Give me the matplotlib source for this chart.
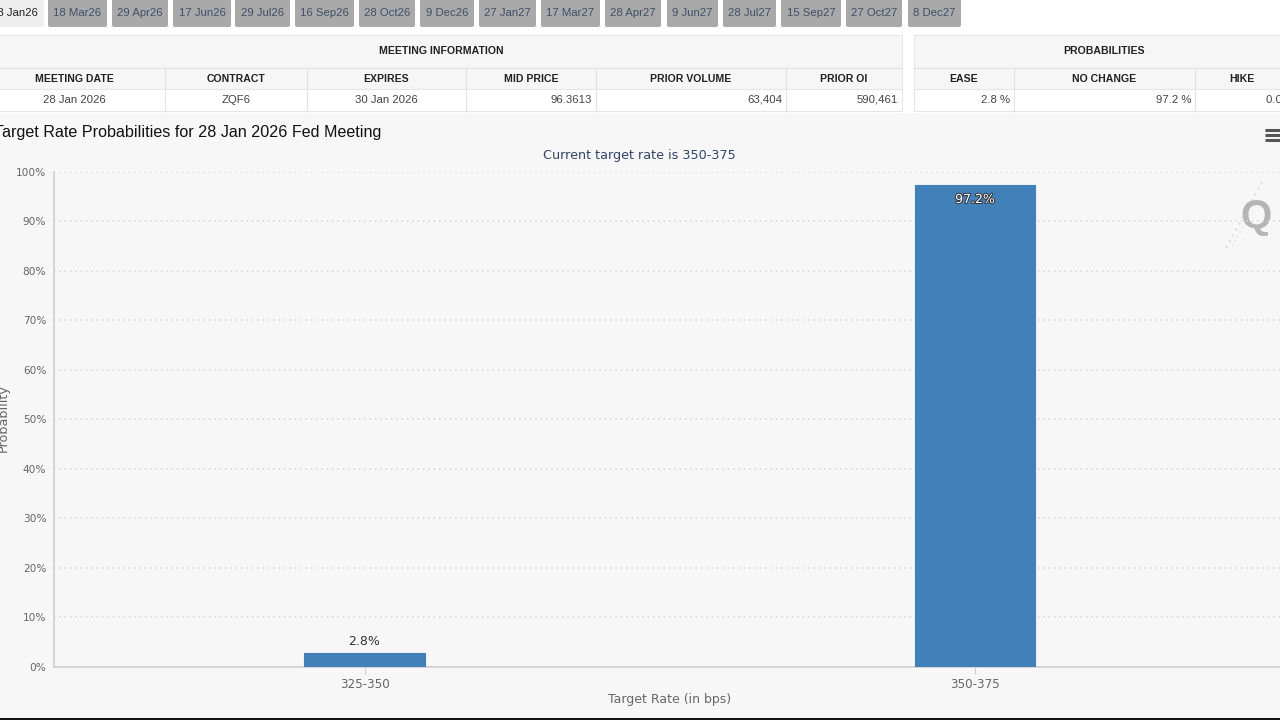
import matplotlib
matplotlib.use("Agg")
import matplotlib.pyplot as plt
import matplotlib.patheffects as pe
from matplotlib.patches import Rectangle, FancyBboxPatch

# datos de la grafica
rates = ["325-350", "350-375"]
probs = [2.8, 97.2]
bar_labels = ["2.8%", "97.2%"]
y_ticks = [0, 10, 20, 30, 40, 50, 60, 70, 80, 90, 100]

# pestañas de reuniones
tab_labels = ["28 Jan26", "18 Mar26", "29 Apr26", "17 Jun26", "29 Jul26", "16 Sep26", "28 Oct26", "9 Dec26",
              "27 Jan27", "17 Mar27", "28 Apr27", "9 Jun27", "28 Jul27", "15 Sep27", "27 Oct27", "8 Dec27"]
tab_edges = [(-16, 44), (48, 107), (112, 168), (173, 231), (235, 290), (295, 354), (359, 415), (420, 474),
             (479, 536), (541, 600), (605, 661), (667, 718), (723, 776), (781, 841), (846, 902), (908, 961)]

# tablas
info_headers = ["MEETING DATE", "CONTRACT", "EXPIRES", "MID PRICE", "PRIOR VOLUME", "PRIOR OI"]
info_values = ["28 Jan 2026", "ZQF6", "30 Jan 2026", "96.3613", "63,404", "590,461"]
info_cols = [-17, 165, 307, 466, 596, 786, 902]
info_align = ["center", "center", "center", "right", "right", "right"]
prob_headers = ["EASE", "NO CHANGE", "HIKE"]
prob_values = ["2.8 %", "97.2 %", "0.0 %"]
prob_cols = [914, 1014, 1195, 1290]

W, H = 1280, 720
BAR = "#4180b8"
GRID = "#d6d6d6"
LINE = "#cfcfcf"
TXT = "#666666"
SANS = "Liberation Sans"

fig = plt.figure(figsize=(12.8, 7.2), dpi=100, facecolor="#f7f7f7")

# capa de fondo en pixeles para pestañas y tablas
bg = fig.add_axes([0, 0, 1, 1], zorder=0)
bg.set_xlim(0, W)
bg.set_ylim(H, 0)
bg.axis("off")

bg.add_patch(Rectangle((0, 0), W, 113, fc="white", ec="none"))
bg.add_patch(Rectangle((0, 718), W, 2, fc="#111111", ec="none"))

for i, (label, (x0, x1)) in enumerate(zip(tab_labels, tab_edges)):
    fc = "#eeeeee" if i == 0 else "#a9a9a9"
    col = "#222222" if i == 0 else "#3f4f68"
    bg.add_patch(FancyBboxPatch((x0, -6), x1 - x0, 33, boxstyle="round,pad=0,rounding_size=2",
                                fc=fc, ec="none"))
    bg.text((x0 + x1) / 2, 12.5, label, ha="center", va="center", fontsize=8.2, color=col, family=SANS)


def tabla(cols, title, title_x, headers, values, aligns):
    x0, x1 = cols[0], cols[-1]
    bg.add_patch(Rectangle((x0, 35), x1 - x0, 54, fc="#f6f6f6", ec="#e6e6e6", lw=0.8))
    bg.add_patch(Rectangle((x0, 89), x1 - x0, 22, fc="white", ec="#e6e6e6", lw=0.8))
    bg.plot([x0, x1], [68, 68], color="#e2e2e2", lw=0.8)
    bg.text(title_x, 51.5, title, ha="center", va="center", fontsize=7.6, fontweight="bold",
            color="#222222", family=SANS)
    for j, (head, val) in enumerate(zip(headers, values)):
        a, b = cols[j], cols[j + 1]
        if j > 0:
            bg.plot([a, a], [68, 111], color="#e2e2e2", lw=0.8)
        bg.text((a + b) / 2 - (1 if b > W else 0), 78.5, head, ha="center", va="center", fontsize=7.6,
                fontweight="bold", color="#222222", family=SANS)
        if aligns[j] == "right":
            # la ultima columna queda cortada por el borde de la captura
            right = b + 5 if b > W else b - 4
            bg.text(right, 100, val, ha="right", va="center", fontsize=8.2, color="#444444", family=SANS)
        else:
            bg.text((a + b) / 2, 100, val, ha="center", va="center", fontsize=8.2, color="#444444", family=SANS)


tabla(info_cols, "MEETING INFORMATION", 441.5, info_headers, info_values, info_align)
tabla(prob_cols, "PROBABILITIES", 1104, prob_headers, prob_values, ["right"] * 3)

bg.text(-5.5, 132, "Target Rate Probabilities for 28 Jan 2026 Fed Meeting", ha="left", va="center",
        fontsize=11.6, color="#111111", family=SANS)
bg.text(639, 156, "Current target rate is 350-375", ha="center", va="center", fontsize=9.2,
        color="#33446b")

# icono de menu
for y in (129.5, 134.5, 139.5):
    bg.plot([1265, 1281], [y, y], color="#555555", lw=2.2, solid_capstyle="butt")

# grafica: 54-1280 px en x, 171.5-667 px en y
ax = fig.add_axes([54 / W, (H - 667) / H, (W - 54) / W, (667 - 171.5) / H], zorder=1)
ax.patch.set_alpha(0)
x_pos = list(range(len(rates)))
spacing = 610.5
ax.set_xlim((54 - 364.5) / spacing, (1280 - 364.5) / spacing)
ax.set_ylim(0, 100)

ax.bar(x_pos, probs, width=0.197, color=BAR, edgecolor=BAR, linewidth=0.8, joinstyle="round", zorder=3)

ax.set_yticks(y_ticks)
ax.set_yticklabels([f"{v}%" for v in y_ticks], fontsize=7.6, color=TXT)
ax.set_xticks(x_pos)
ax.set_xticklabels(rates, fontsize=8.6, color=TXT)
ax.tick_params(axis="y", length=0, pad=5.5)
ax.tick_params(axis="x", length=5, width=0.8, color=LINE, pad=3)
ax.grid(axis="y", color=GRID, linestyle=(0, (1, 2.5)), linewidth=1.1, zorder=1)
ax.set_axisbelow(True)

for side in ("top", "right"):
    ax.spines[side].set_visible(False)
for side in ("left", "bottom"):
    ax.spines[side].set_color(LINE)
    ax.spines[side].set_linewidth(1.2)

ax.set_xlabel("Target Rate (in bps)", fontsize=9, color=TXT)
ax.xaxis.set_label_coords((670 - 54) / (W - 54), -26 / (667 - 171.5))
fig.text(3 / W, (H - 418) / H, "Probability", rotation=90, ha="center", va="center", fontsize=9.2, color=TXT)

# etiquetas de las barras
ax.annotate(bar_labels[0], (x_pos[0], probs[0]), xytext=(0, 4), textcoords="offset points",
            ha="center", va="bottom", fontsize=9, color="#333333")
ax.annotate(bar_labels[1], (x_pos[1], probs[1]), xytext=(0, -5.5), textcoords="offset points",
            ha="center", va="top", fontsize=9, color="white",
            path_effects=[pe.withStroke(linewidth=1.4, foreground="#333333")])

# marca de agua
bg.plot([1226, 1262], [248, 182], color="#d5e2ee", lw=1.6, linestyle=(0, (1, 2)), zorder=4)
bg.plot([1232, 1256], [246, 205], color="#e2eaf2", lw=1.2, linestyle=(0, (1, 2)), zorder=4)
bg.text(1256, 217, "Q", ha="center", va="center", fontsize=29, fontweight="bold", color="#b5b5b5",
        family=SANS, zorder=5)

fig.savefig("out.png", dpi=100, facecolor=fig.get_facecolor())
